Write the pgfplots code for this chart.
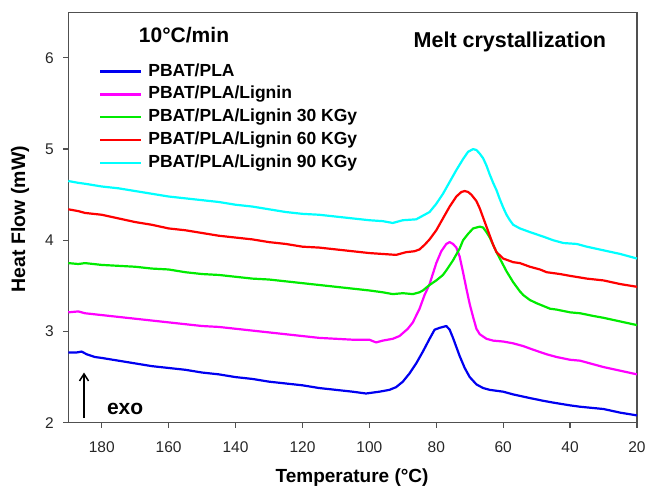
\documentclass[border=0pt]{standalone}
\usepackage{fontspec}
\setmainfont{Liberation Sans}
\usepackage{pgfplots}
\pgfplotsset{compat=1.18}
\usetikzlibrary{arrows.meta}
\definecolor{cblue}{RGB}{0,0,240}
\definecolor{cmag}{RGB}{255,0,255}
\definecolor{cgreen}{RGB}{0,235,0}
\definecolor{cred}{RGB}{255,0,0}
\definecolor{ccyan}{RGB}{0,255,255}
\definecolor{axgray}{RGB}{80,80,80}
\begin{document}
\begin{tikzpicture}
\begin{axis}[
  name=ax,
  scale only axis,
  width=568.7pt, height=410.4pt,
  x dir=reverse,
  xmin=20, xmax=190, ymin=2, ymax=6.5,
  xtick={20,40,...,180}, ytick={2,3,4,5,6},
  xtick pos=left, ytick pos=left,
  tick align=outside,
  major tick length=5pt,
  axis line style={axgray, line width=1.2pt},
  every tick/.style={axgray, line width=1.2pt},
  /pgf/number format/assume math mode=true,
  ticklabel style={font=\fontsize{15.5}{18}\selectfont, text=black!85},
  xticklabel style={yshift=-10pt},
  yticklabel style={xshift=-6pt},
  xlabel={Temperature (°C)},
  ylabel={Heat Flow (mW)},
  xlabel style={at={(axis description cs:0.499,-0.1335)}, anchor=center, font=\bfseries\fontsize{19}{22}\selectfont},
  ylabel style={at={(axis description cs:-0.0849,0.4963)}, anchor=center, rotate=0, font=\bfseries\fontsize{19.5}{22}\selectfont},
  clip=false,
  legend cell align=left,
  legend style={at={(axis description cs:0.054,0.884)}, anchor=north west, draw=none, fill=none, inner sep=0pt, row sep=0pt,
    font=\bfseries\fontsize{17.5}{21}\selectfont,
    nodes={text height=13pt, text depth=4pt, inner ysep=2.95pt, inner xsep=6pt}},
  legend image code/.code={\draw[#1, line width=2.2pt] (0pt,0pt) -- (41pt,0pt);},
  every axis plot/.append style={line width=2.2pt, line join=round},
]
\coordinate (sw) at (axis description cs:0,0);

\addplot[cblue] coordinates {
(190,2.77) (187.5,2.77) (186,2.78) (184.5,2.75) (182,2.72) (180,2.71) (175,2.68) (170,2.65) (165,2.62) (160,2.60) (155,2.58) (150,2.55) (145,2.53) (140,2.50) (135,2.48) (130,2.45) (125,2.43) (120,2.41) (115,2.38) (110,2.36) (105,2.34) (101,2.32) (97,2.34) (94,2.36) (92,2.39) (90,2.45) (88,2.54) (86,2.65) (84,2.78) (82,2.92) (80.5,3.02) (79,3.04) (77,3.06) (76,3.02) (75,2.93) (74,2.83) (73,2.73) (71.5,2.60) (70,2.50) (68,2.42) (66,2.38) (64,2.36) (60,2.34) (57,2.31) (52,2.27) (48,2.24) (45,2.22) (40,2.19) (37,2.175) (30,2.15) (25,2.11) (20,2.08)
};
\addlegendentry{PBAT/PLA}

\addplot[cmag] coordinates {
(190,3.21) (187,3.22) (185,3.20) (180,3.18) (175,3.16) (170,3.14) (165,3.12) (160,3.10) (155,3.08) (150,3.06) (145,3.05) (140,3.03) (135,3.01) (130,2.99) (125,2.97) (120,2.95) (115,2.93) (110,2.92) (105,2.91) (100,2.91) (98,2.88) (96,2.90) (93,2.92) (91,2.95) (88.5,3.03) (87,3.10) (85,3.25) (83.5,3.40) (82,3.52) (80,3.75) (78.5,3.88) (77,3.96) (76,3.98) (75,3.96) (74,3.92) (73,3.82) (72,3.65) (71,3.47) (70,3.30) (69,3.16) (68,3.03) (67,2.97) (65,2.92) (63,2.90) (60,2.89) (57,2.87) (54,2.84) (51,2.80) (47,2.75) (44,2.72) (40,2.69) (37,2.68) (30,2.61) (25,2.57) (20,2.53)
};
\addlegendentry{PBAT/PLA/Lignin}

\addplot[cgreen] coordinates {
(190,3.75) (187,3.74) (185,3.75) (180,3.73) (175,3.72) (170,3.71) (165,3.69) (160,3.68) (155,3.65) (150,3.63) (145,3.62) (140,3.60) (135,3.58) (130,3.57) (125,3.55) (120,3.53) (115,3.51) (110,3.49) (105,3.47) (100,3.45) (96,3.43) (93,3.41) (90,3.42) (87,3.41) (85,3.43) (84,3.45) (82,3.51) (80,3.56) (78,3.62) (77,3.67) (75,3.78) (73,3.91) (72,4.00) (70.5,4.07) (69,4.13) (67,4.15) (66,4.14) (65,4.09) (64,4.03) (63,3.95) (62,3.87) (61,3.80) (60,3.73) (59,3.66) (58,3.60) (57,3.54) (56,3.49) (55,3.44) (54,3.40) (52,3.345) (50,3.31) (48,3.28) (46,3.25) (44,3.24) (40,3.21) (37,3.20) (33,3.17) (30,3.15) (25,3.11) (20,3.07)
};
\addlegendentry{PBAT/PLA/Lignin 30 KGy}

\addplot[cred] coordinates {
(190,4.34) (187,4.32) (185,4.30) (180,4.28) (175,4.24) (170,4.20) (165,4.17) (160,4.13) (155,4.11) (150,4.08) (145,4.05) (140,4.03) (135,4.01) (130,3.98) (125,3.96) (120,3.93) (115,3.92) (110,3.90) (105,3.88) (100,3.86) (96,3.85) (92,3.84) (89,3.87) (86.5,3.88) (85,3.90) (83.5,3.95) (82,4.01) (80,4.11) (78,4.24) (76,4.37) (74,4.48) (72.5,4.53) (71.5,4.54) (70.5,4.53) (69.5,4.50) (68,4.43) (67,4.35) (66,4.25) (65,4.15) (64,4.05) (63,3.95) (62,3.87) (60,3.80) (57,3.76) (55,3.75) (52,3.71) (49,3.68) (47,3.65) (43,3.63) (40,3.61) (35,3.58) (30,3.56) (25,3.52) (20,3.49)
};
\addlegendentry{PBAT/PLA/Lignin 60 KGy}

\addplot[ccyan] coordinates {
(190,4.65) (187,4.63) (185,4.62) (180,4.59) (175,4.57) (170,4.54) (165,4.51) (160,4.48) (155,4.46) (150,4.44) (145,4.42) (140,4.39) (135,4.37) (130,4.34) (125,4.31) (120,4.29) (115,4.28) (110,4.26) (105,4.24) (100,4.22) (96,4.21) (93,4.19) (90,4.22) (86,4.23) (84,4.27) (82,4.31) (80,4.40) (78,4.51) (76,4.64) (74,4.77) (72,4.89) (70.5,4.97) (69,5.00) (68,4.99) (67,4.95) (66,4.90) (65,4.82) (64,4.72) (63,4.63) (62,4.55) (61,4.45) (60,4.36) (59,4.28) (58,4.22) (57,4.17) (55,4.13) (52,4.09) (48,4.04) (45,4.00) (42,3.97) (38,3.96) (35,3.93) (30,3.89) (25,3.85) (20,3.80)
};
\addlegendentry{PBAT/PLA/Lignin 90 KGy}

\node[font=\bfseries\fontsize{21}{24}\selectfont] at (axis cs:155.4,6.25) {10°C/min};
\node[font=\bfseries\fontsize{21.5}{24}\selectfont] at (axis cs:58.0,6.175) {Melt crystallization};
\node[font=\bfseries\fontsize{21}{24}\selectfont] at (axis cs:173.0,2.15) {exo};
\draw[-{Straight Barb[length=7pt,width=9pt]}, line width=1.5pt, black] (axis cs:185.3,2.05) -- (axis cs:185.3,2.55);
\end{axis}
\pgfresetboundingbox
\path (sw) ++(-68.3pt,-66.3pt) rectangle ++(646pt,489pt);
\end{tikzpicture}
\end{document}
